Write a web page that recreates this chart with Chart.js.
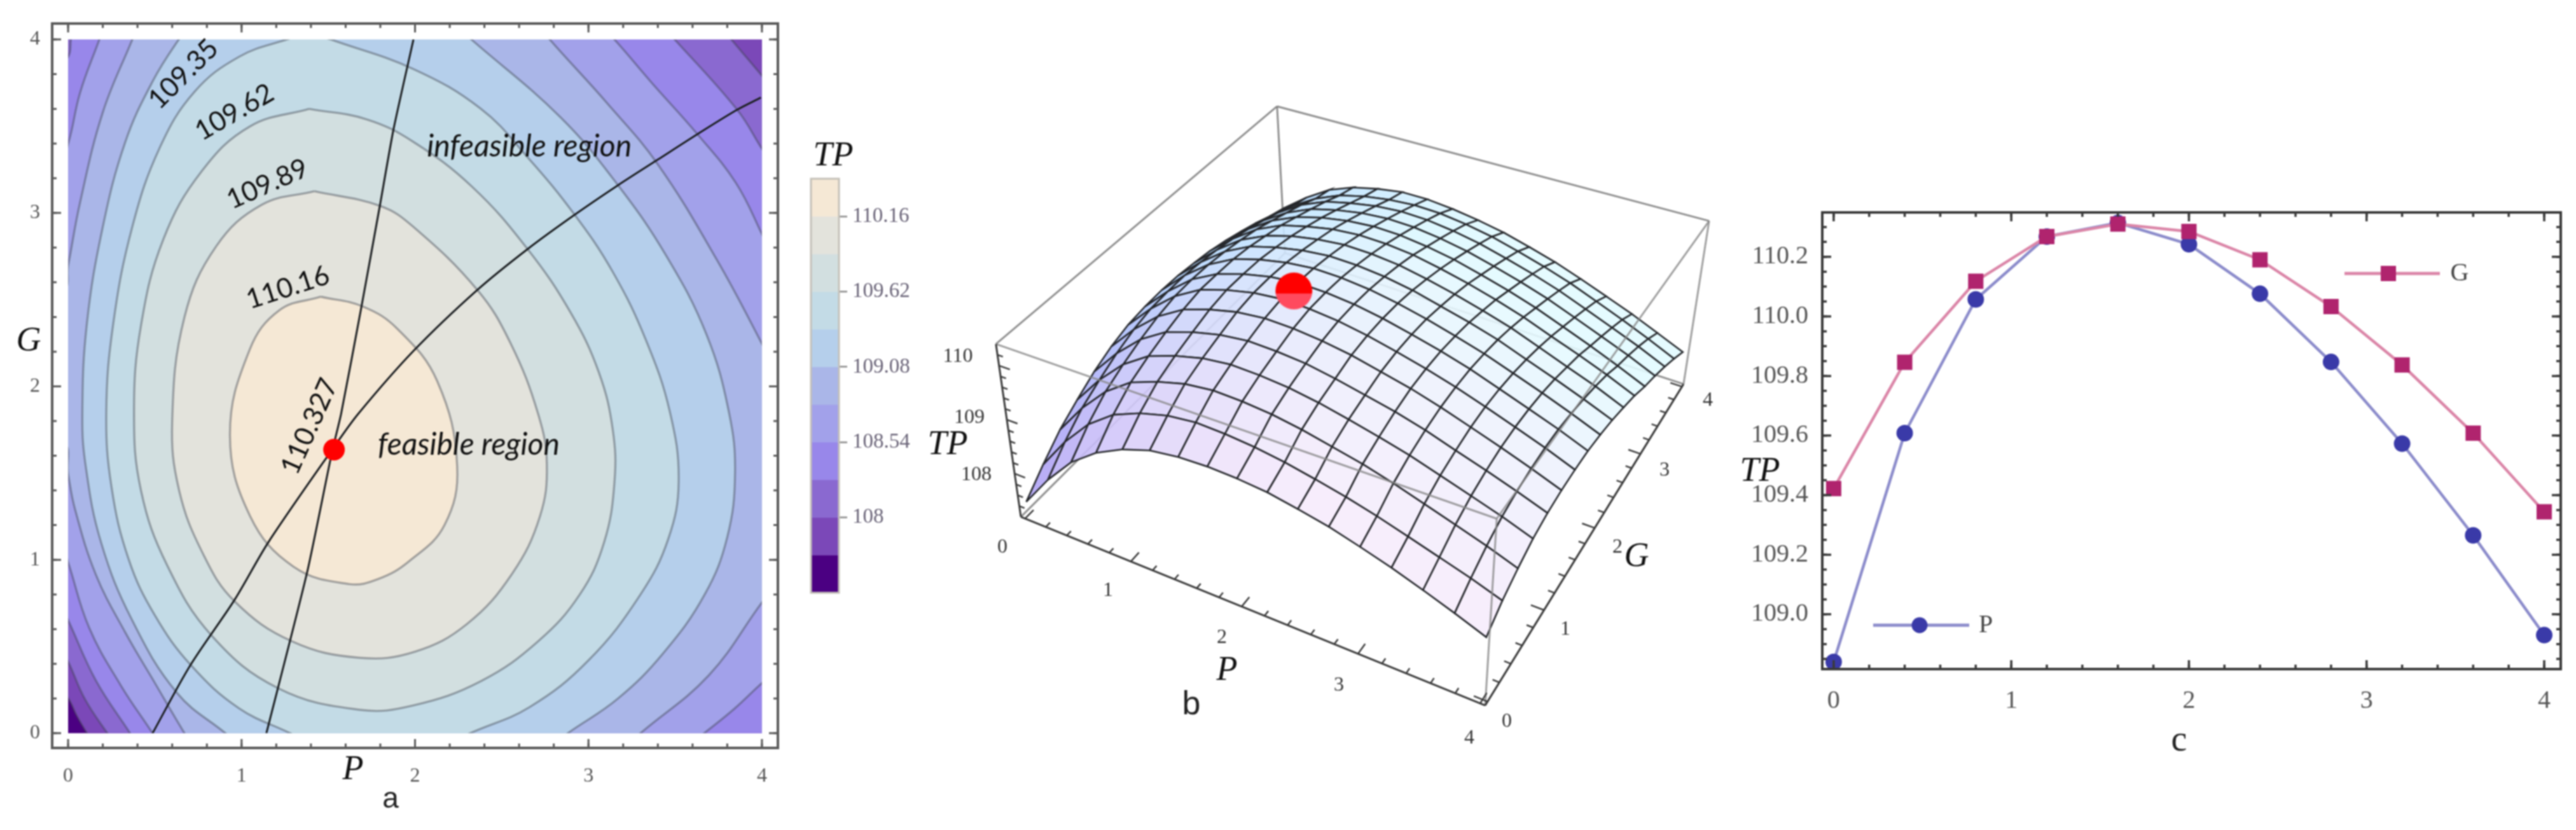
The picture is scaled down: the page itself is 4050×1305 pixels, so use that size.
<!DOCTYPE html>
<html><head><meta charset="utf-8">
<style>html,body{margin:0;padding:0;background:#fff;width:4050px;height:1305px;overflow:hidden}canvas{position:absolute;filter:blur(0.9px)}</style>
<script src="https://cdn.jsdelivr.net/npm/chart.js@4"></script>
</head><body>
<script>
/* ---------- data: panel a, contour lines as [P,G] ---------- */
const contour1=[[1.457,2.517],[1.7,2.46],[1.9,2.33],[2.128,2.03],[2.243,1.54],[2.17,1.2],[1.964,.99],[1.79,.89],[1.62,.86],[1.3,.96],[1.05,1.25],[.933,1.72],[1.047,2.212],[1.22,2.44]];
const contour2=[[1.42,3.125],[1.8,3.04],[1.99,2.92],[2.36,2.555],[2.55,2.25],[2.71,1.84],[2.76,1.55],[2.72,1.25],[2.56,.92],[2.3,.63],[2,.47],[1.68,.435],[1.29,.53],[.96,.76],[.78,1.03],[.64,1.4],[.6,1.8],[.671,2.4],[.854,2.808],[1.116,3.047]];
const contour3=[[1.39,3.6],[1.72,3.54],[1.99,3.41],[2.33,3.15],[2.65,2.79],[2.9,2.42],[3.06,2.08],[3.14,1.75],[3.15,1.45],[3.09,1.1],[2.95,.8],[2.71,.53],[2.38,.3],[1.99,.16],[1.68,.135],[1.21,.26],[.83,.56],[.57,.97],[.42,1.4],[.38,1.85],[.42,2.35],[.55,2.85],[.77,3.24],[1.05,3.5]];
const contour4=[[1.516,4],[1.99,3.83],[2.38,3.6],[2.65,3.32],[2.92,2.99],[3.14,2.66],[3.33,2.27],[3.47,1.85],[3.52,1.45],[3.46,1.12],[3.3,.8],[3,.42],[2.66,.15],[2.318,0],[2.2,-.06],[1.4,-.06],[1.28,0],[.985,.144],[.71,.39],[.5,.68],[.35,1],[.25,1.42],[.22,1.85],[.26,2.36],[.37,2.92],[.53,3.38],[.73,3.7],[.985,3.9],[1.26,4],[1.39,4.03]];
const contour5=[[2.325,4],[2.84,3.55],[3.17,3.16],[3.45,2.75],[3.68,2.3],[3.81,1.85],[3.845,1.5],[3.8,1.13],[3.67,.8],[3.43,.46],[3.17,.2],[2.881,0],[2.75,-.1],[2.4,-.5],[1.3,-.5],[1.03,-.1],[.907,0],[.63,.23],[.37,.65],[.19,1.1],[.1,1.55],[.082,1.85],[.108,2.36],[.2,2.92],[.33,3.41],[.488,3.76],[.638,4],[.72,4.1],[1,4.5],[2,4.5],[2.22,4.1]];
const contour6=[[.37,4],[.42,4.1],[.7,4.5],[2.5,4.5],[2.7,4.1],[2.777,4],[3.104,3.637],[3.4,3.28],[3.74,2.73],[4,2.246],[4.08,2.08],[4.5,1.9],[4.5,1.1],[4.1,.88],[4,.754],[3.693,.333],[3.3,0],[3.2,-.09],[3,-.5],[1,-.5],[.74,-.1],[.671,0],[.5,.29],[.33,.58],[.16,.914],[.04,1.29],[0,1.494],[-.03,1.68],[-.5,1.8],[-.5,2.4],[-.03,2.55],[0,2.696],[.069,3.061],[.2,3.58]];
const contour7=[[.18,4],[.24,4.1],[.5,4.5],[2.9,4.5],[3.05,4.1],[3.15,4],[3.366,3.749],[3.628,3.454],[3.85,3.173],[4,2.878],[4.07,2.72],[4.5,2.4],[4.5,.7],[4.1,.37],[4,.289],[3.84,.14],[3.667,0],[3.55,-.09],[3.2,-.5],[.8,-.5],[.55,-.1],[.487,0],[.304,.275],[.121,.609],[0,.986],[-.06,1.16],[-.5,1.4],[-.5,3],[-.08,3.2],[0,3.398],[.069,3.693]];
const contour8=[[.016,4],[.07,4.1],[.4,4.5],[3.2,4.5],[3.4,4.1],[3.497,4],[3.857,3.595],[4,3.37],[4.08,3.25],[4.5,3],[4.5,-.5],[.7,-.5],[.42,-.1],[.357,0],[.16,.304],[0,.652],[-.08,.82],[-.5,1.1],[-.5,3.5],[-.08,3.85],[0,3.9]];
const contour9=[[3.76,4.08],[3.824,4],[4,3.791],[4.1,3.67],[4.5,3.4],[4.5,-.5],[.5,-.5],[.3,-.1],[.226,0],[.095,.2],[0,.413],[-.1,.6],[-.5,.9],[-.5,4.5],[3.4,4.5]];
const contour10=[[.108,0],[.16,-.08],[.5,-.5],[4.5,-.5],[4.5,4.5],[-.5,4.5],[-.5,.7],[-.08,.3],[0,.202],[.05,.1]];
const contours=[contour10,contour9,contour8,contour7,contour6,contour5,contour4,contour3,contour2,contour1];
const boundaryCurve=[[.487,0],[.704,.391],[.959,.768],[1.155,1.102],[1.535,1.653],[1.673,1.842],[1.991,2.204],[2.358,2.555],[2.652,2.794],[2.921,2.99],[3.169,3.159],[3.399,3.307],[3.628,3.454],[3.857,3.595],[3.994,3.665]];
const boundaryLine=[[1.143,0],[1.378,.928],[1.522,1.624],[1.574,1.842],[1.692,2.464],[1.797,3.04],[1.876,3.482],[1.991,4]];
const optimum=[1.533,1.635];
const axisTicks=[0,1,2,3,4];
/* colour bar */
const bandEdges=[110.43,110.16,109.89,109.62,109.35,109.08,108.81,108.54,108.27,108,107.73,107.46];
const bandColours=['#F5E8D5','#E3E3DC','#D2DFE0','#C3DBE6','#B5CFEB','#AAB6E8','#A2A1EA','#9887EA','#8A69D0','#7B48B8','#4B0082'];
const barTicks=[110.16,109.62,109.08,108.54,108];
/* ---------- data: panel c ---------- */
const sampleX=[0,.4,.8,1.2,1.6,2,2.4,2.8,3.2,3.6,4];
const seriesP=[108.84,109.608,110.057,110.268,110.314,110.242,110.076,109.847,109.573,109.265,108.93];
const seriesG=[109.422,109.846,110.118,110.268,110.31,110.285,110.19,110.033,109.837,109.608,109.344];
const cYTicks=[109,109.2,109.4,109.6,109.8,110,110.2];
/* ---------- data: panel b, TP on the mesh (rows: G=0..4, columns: P=0..4, step .25) ---------- */
const meshStep=[0,.25,.5,.75,1,1.25,1.5,1.75,2,2.25,2.5,2.75,3,3.25,3.5,3.75,4];
const surfaceTP=[
[107.45,108.05,108.56,108.92,109.17,109.34,109.41,109.43,109.41,109.36,109.26,109.15,109.00,108.84,108.66,108.47,108.27],
[107.79,108.40,108.91,109.27,109.48,109.62,109.68,109.66,109.61,109.53,109.42,109.30,109.16,109.00,108.84,108.68,108.50],
[108.10,108.69,109.18,109.53,109.72,109.86,109.92,109.90,109.85,109.76,109.64,109.52,109.37,109.20,109.03,108.86,108.67],
[108.33,108.89,109.36,109.69,109.87,110.00,110.06,110.04,109.99,109.90,109.78,109.65,109.51,109.34,109.17,109.00,108.81],
[108.54,109.07,109.51,109.82,109.99,110.11,110.17,110.15,110.10,110.00,109.88,109.76,109.61,109.43,109.26,109.08,108.89],
[108.70,109.21,109.63,109.93,110.10,110.22,110.27,110.25,110.19,110.10,109.97,109.84,109.68,109.50,109.32,109.13,108.93],
[108.81,109.30,109.71,110.00,110.16,110.27,110.32,110.30,110.24,110.14,110.01,109.87,109.71,109.53,109.34,109.15,108.94],
[108.86,109.33,109.73,110.00,110.16,110.27,110.32,110.30,110.24,110.14,110.01,109.87,109.71,109.52,109.33,109.14,108.93],
[108.88,109.34,109.72,109.99,110.14,110.24,110.29,110.27,110.21,110.11,109.98,109.83,109.67,109.48,109.29,109.09,108.88],
[108.87,109.31,109.68,109.94,110.08,110.18,110.23,110.21,110.15,110.05,109.91,109.77,109.61,109.41,109.22,109.02,108.81],
[108.83,109.26,109.62,109.86,110.01,110.10,110.15,110.13,110.07,109.96,109.83,109.68,109.52,109.32,109.12,108.93,108.71],
[108.78,109.19,109.54,109.78,109.91,110.01,110.05,110.03,109.97,109.86,109.73,109.58,109.41,109.21,109.02,108.82,108.60],
[108.70,109.10,109.43,109.66,109.80,109.89,109.93,109.91,109.84,109.74,109.60,109.45,109.28,109.08,108.88,108.67,108.45],
[108.60,108.99,109.31,109.54,109.67,109.76,109.80,109.78,109.71,109.61,109.47,109.32,109.15,108.95,108.75,108.55,108.33],
[108.49,108.87,109.19,109.41,109.53,109.62,109.66,109.64,109.57,109.47,109.33,109.18,109.01,108.81,108.61,108.41,108.19],
[108.36,108.73,109.04,109.26,109.39,109.47,109.51,109.49,109.42,109.32,109.18,109.03,108.86,108.66,108.46,108.25,108.03],
[108.25,108.63,108.95,109.15,109.27,109.35,109.35,109.30,109.22,109.12,108.98,108.83,108.65,108.46,108.27,108.06,107.85]];
const optimum3D=[1.533,1.635,110.327];

/* ---------- helpers ---------- */
const SERIF='"Liberation Serif"';
const pts=a=>a.map(([x,y])=>({x,y}));
function addCanvas(l,t,w,h){const c=document.createElement('canvas');c.width=w;c.height=h;c.style.left=l+'px';c.style.top=t+'px';c.style.width=w+'px';c.style.height=h+'px';document.body.appendChild(c);return c;}
function notes(list,l,t){return{id:'notes',afterDraw(ch){const g=ch.ctx;for(const n of list){g.save();
  const X=n.data?ch.scales.x.getPixelForValue(n.x):n.x-l,Y=n.data?ch.scales.y.getPixelForValue(n.y):n.y-t;
  g.translate(X,Y);if(n.rot)g.rotate(n.rot*Math.PI/180);g.font=n.font;g.fillStyle=n.color||'#111';g.textAlign='center';g.textBaseline='middle';g.fillText(n.text,0,0);g.restore();}}};}
function frame(o){return{id:'frame',afterDraw(ch){const g=ch.ctx,a=ch.chartArea,X=ch.scales.x,Y=ch.scales.y;g.save();g.strokeStyle=o.color;g.lineWidth=o.width;g.strokeRect(a.left,a.top,a.right-a.left,a.bottom-a.top);
  const tick=(px,len,hor)=>{g.beginPath();if(hor){g.moveTo(px,a.bottom);g.lineTo(px,a.bottom-len);g.moveTo(px,a.top);g.lineTo(px,a.top+len);}else{g.moveTo(a.left,px);g.lineTo(a.left+len,px);g.moveTo(a.right,px);g.lineTo(a.right-len,px);}g.stroke();};
  g.lineWidth=o.tickWidth;
  for(const v of o.xMinor)tick(X.getPixelForValue(v),o.minorLen,true);
  for(const v of o.yMinor)tick(Y.getPixelForValue(v),o.minorLen,false);
  for(const v of o.xMajor)tick(X.getPixelForValue(v),o.majorLen,true);
  for(const v of o.yMajor)tick(Y.getPixelForValue(v),o.majorLen,false);
  g.restore();}};}
const range=(a,b,s)=>{const r=[];for(let i=0;Math.round((a+i*s)*1000)/1000<=b;i++)r.push(Math.round((a+i*s)*1000)/1000);return r;};
const fixedTicks=v=>s=>{s.ticks=v.map(value=>({value}));};
const base={responsive:false,animation:false,devicePixelRatio:1,events:[],plugins:{legend:{display:false},tooltip:{enabled:false}}};
Chart.defaults.elements.line.capBezierPoints=false;

/* ---------- panel a ---------- */
{
 const ds=[];let ord=100;
 ds.push({data:pts([[-.5,-.5],[4.5,-.5],[4.5,4.5],[-.5,4.5],[-.5,-.5]]),showLine:true,fill:'shape',backgroundColor:bandColours[10],borderWidth:0,pointRadius:0,tension:0,order:ord--});
 contours.forEach((c,i)=>{ds.push({data:pts(c.concat([c[0]])),showLine:true,fill:'shape',backgroundColor:bandColours[9-i],borderColor:'rgba(62,66,78,.42)',borderWidth:3.4,pointRadius:0,tension:.4,order:ord--});});
 ds.push({data:pts(boundaryCurve),showLine:true,borderColor:'#1c1f22',borderWidth:3,pointRadius:0,tension:.3,order:ord--});
 ds.push({data:pts(boundaryLine),showLine:true,borderColor:'#1c1f22',borderWidth:3,pointRadius:0,tension:.2,order:ord--});
 ds.push({data:pts([optimum]),backgroundColor:'#ff0000',borderWidth:0,pointRadius:17,order:ord--});
 const clip={id:'clipSquare',beforeDatasetsDraw(ch){const x=ch.scales.x,y=ch.scales.y,g=ch.ctx;g.save();g.beginPath();g.rect(x.getPixelForValue(0),y.getPixelForValue(4),x.getPixelForValue(4)-x.getPixelForValue(0),y.getPixelForValue(0)-y.getPixelForValue(4));g.clip();},afterDatasetsDraw(ch){ch.ctx.restore();}};
 const sans='"Lato"';
 new Chart(addCanvas(0,0,1260,1305),{type:'scatter',data:{datasets:ds},
  plugins:[clip,frame({color:'#5a5a5a',width:4,tickWidth:3,xMajor:axisTicks,yMajor:axisTicks,xMinor:range(0,4,.2),yMinor:range(0,4,.2),majorLen:14,minorLen:7}),
   notes([
    {data:1,x:.665,y:3.80,rot:-45,text:'109.35',font:`43px ${sans}`},
    {data:1,x:.959,y:3.58,rot:-30,text:'109.62',font:`43px ${sans}`},
    {data:1,x:1.149,y:3.166,rot:-24,text:'109.89',font:`43px ${sans}`},
    {data:1,x:1.267,y:2.569,rot:-18,text:'110.16',font:`43px ${sans}`},
    {data:1,x:1.392,y:1.769,rot:-66,text:'110.327',font:`43px ${sans}`},
    {data:1,x:2.659,y:3.384,text:'infeasible region',font:`italic 48px ${sans}`},
    {data:1,x:2.31,y:1.662,text:'feasible region',font:`italic 48px ${sans}`},
    {x:555,y:1211,text:'P',font:`italic 54px ${SERIF}`},
    {x:45,y:537,text:'G',font:`italic 54px ${SERIF}`},
    {x:614,y:1257,text:'a',font:'46px "Liberation Sans"',color:'#222'}
   ],0,0)],
  options:{...base,layout:{padding:{top:37,right:37}},
   scales:{
    x:{type:'linear',min:-.092,max:4.092,afterBuildTicks:fixedTicks(axisTicks),afterFit(s){s.height=129;},grid:{display:false},border:{display:false},ticks:{padding:17,maxRotation:0,color:'#555',font:{family:'Liberation Serif',size:32},callback:v=>String(v)}},
    y:{type:'linear',min:-.085,max:4.092,afterBuildTicks:fixedTicks(axisTicks),afterFit(s){s.width=82;},grid:{display:false},border:{display:false},ticks:{padding:11,color:'#555',font:{family:'Liberation Serif',size:32},callback:v=>String(v)}}
   }}});
}

/* ---------- colour bar ---------- */
{
 new Chart(addCanvas(1260,200,290,760),{type:'bar',
  data:{labels:['TP'],datasets:bandColours.map((c,i)=>({data:[[bandEdges[i+1],bandEdges[i]]],backgroundColor:c,grouped:false,barPercentage:1,categoryPercentage:1,borderWidth:0}))},
  plugins:[frame({color:'#c4c0b8',width:3,tickWidth:0,xMajor:[],yMajor:[],xMinor:[],yMinor:[],majorLen:0,minorLen:0}),
   notes([{x:1310,y:246,text:'TP',font:`italic 54px ${SERIF}`}],1260,200)],
  options:{...base,layout:{padding:{left:15,top:81,bottom:28}},
   scales:{
    x:{display:false,stacked:true},
    y:{position:'right',min:bandEdges[11],max:bandEdges[0],afterBuildTicks:fixedTicks(barTicks),afterFit(s){s.width=231;},
       grid:{drawOnChartArea:false,tickLength:13,tickColor:'#888',tickWidth:2.5},border:{display:false},
       ticks:{padding:8,color:'#6a6478',font:{family:'Liberation Serif',size:33},callback:v=>String(v)}}
   }}});
}

/* ---------- panel b ---------- */
{
 const L=1400,T=60,W=1340,H=1245;
 const quad=c=>{const [x0,y0]=c[0],[x1,y1]=c[1],[x2,y2]=c[2],[x3,y3]=c[3];
  const dx1=x1-x2,dx2=x3-x2,sx=x0-x1+x2-x3,dy1=y1-y2,dy2=y3-y2,sy=y0-y1+y2-y3,den=dx1*dy2-dx2*dy1;
  const g=(sx*dy2-dx2*sy)/den,h=(dx1*sy-sx*dy1)/den,a=x1-x0+g*x1,b=x3-x0+h*x3,d=y1-y0+g*y1,e=y3-y0+h*y3;
  return(u,v)=>{const w=g*u+h*v+1;return[(a*u+b*v+x0)/w,(d*u+e*v+y0)/w];};};
 const floorMap=quad([[1584,819],[2347,1130],[2673,600],[2018,384]]);
 const roofMap=quad([[1543,534],[2366,822],[2715,331],[2005,142]]);
 const Z0=107.2,Z1=110.4,PAD=.04;
 const uv=(u,v,f)=>{const a=floorMap(u,v),b=roofMap(u,v);return{x:a[0]+(b[0]-a[0])*f,y:a[1]+(b[1]-a[1])*f};};
 const project=(p,g,t)=>uv((p+PAD)/(4+2*PAD),(g+PAD)/(4+2*PAD),(t-Z0)/(Z1-Z0));
 const mix=(a,b,t)=>a.map((v,i)=>v+(b[i]-v)*t);
 const colour=(p,g)=>{const gv=g/4,base=mix([247,235,252],[226,251,255],Math.min(1,gv*1.3));
  const left=mix([170,155,244],[168,210,255],Math.min(1,gv*1.7));
  const t=Math.min(1,p/2.8),s=t*(2-t);const c=mix(left,base,s);return`rgba(${c.map(Math.round).join(',')},.9)`;};
 const ds=[];let ord=2000;
 const line=(a,color,w)=>ds.push({data:a,showLine:true,borderColor:color,borderWidth:w,pointRadius:0,tension:0,order:ord--});
 const grey='rgba(125,125,125,.85)';
 const c=(u,v,f)=>uv(u,v,f);
 line([c(0,1,1),c(1,1,1)],grey,3);line([c(0,1,1),c(0,0,1)],grey,3);line([c(0,1,1),c(0,1,0)],grey,3);
 line([c(0,1,0),c(0,0,0)],grey,3);line([c(0,1,0),c(1,1,0)],grey,3);
 const n=meshStep.length;
 for(let j=n-2;j>=0;j--)for(let i=0;i<n-1;i++){
  const P=meshStep,G=meshStep,R=surfaceTP;
  const a=project(P[i],G[j],R[j][i]),b=project(P[i+1],G[j],R[j][i+1]),d=project(P[i+1],G[j+1],R[j+1][i+1]),e=project(P[i],G[j+1],R[j+1][i]);
  ds.push({data:[a,b,d,e,a],showLine:true,fill:'shape',backgroundColor:colour(P[i]+.125,G[j]+.125),borderColor:'#26282c',borderWidth:2.6,pointRadius:0,tension:0,order:ord--});
 }
 const lineFront='rgba(135,135,135,.8)';
 line([c(0,0,1),c(1,0,1)],lineFront,3);line([c(1,0,1),c(1,1,1)],lineFront,3);line([c(1,0,1),c(1,0,0)],lineFront,3);line([c(1,1,1),c(1,1,0)],lineFront,3);
 const axis='#3a3a3a';
 line([c(0,0,0),c(1,0,0)],axis,3);line([c(1,0,0),c(1,1,0)],axis,3);line([c(0,0,0),c(0,0,1)],axis,3);
 const tp=[],tg=[],tz=[],gap={x:NaN,y:NaN};
 for(const v of range(0,4,.2)){const len=Number.isInteger(v)?.11:.055;
  tp.push(project(v,-PAD,Z0),project(v,-PAD+len,Z0),gap);
  tg.push(project(4+PAD,v,Z0),project(4+PAD-len,v,Z0),gap);}
 for(const v of range(107.4,110.2,.2)){const len=(Math.abs(v-Math.round(v))<.01)?.1:.05;
  tz.push(project(-PAD,-PAD,v),project(-PAD+len,-PAD,v),gap);}
 line(tp,axis,2.5);line(tg,axis,2.5);line(tz,axis,2.5);
 const dot=document.createElement('canvas');dot.width=dot.height=60;{const g=dot.getContext('2d');g.save();g.beginPath();g.arc(30,30,29,0,7);g.clip();g.fillStyle='#ff0000';g.fillRect(0,0,60,34);g.fillStyle='#ff4a5e';g.fillRect(0,34,60,26);g.restore();}
 ds.push({data:[project(...optimum3D)],pointStyle:dot,pointRadius:29,borderWidth:0,order:ord--});
 new Chart(addCanvas(L,T,W,H),{type:'scatter',data:{datasets:ds},
  plugins:[notes([
    ...[['110',1506,561],['109',1524,657],['108',1535,747]].map(([text,x,y])=>({text,x,y,font:`32px ${SERIF}`,color:'#333'})),
    ...[['0',1576,861],['1',1742,929],['2',1921,1003],['3',2105,1078],['4',2310,1161]].map(([text,x,y])=>({text,x,y,font:`32px ${SERIF}`,color:'#333'})),
    ...[['0',2369,1135],['1',2461,990],['2',2543,861],['3',2617,740],['4',2685,630]].map(([text,x,y])=>({text,x,y,font:`32px ${SERIF}`,color:'#333'})),
    {x:1490,y:700,text:'TP',font:`italic 54px ${SERIF}`},
    {x:1929,y:1055,text:'P',font:`italic 54px ${SERIF}`},
    {x:2573,y:876,text:'G',font:`italic 54px ${SERIF}`},
    {x:1873,y:1109,text:'b',font:'52px "Liberation Sans"',color:'#222'}
   ],L,T)],
  options:{...base,scales:{x:{display:false,min:L,max:L+W},y:{display:false,reverse:true,min:T,max:T+H}}}});
}

/* ---------- panel c ---------- */
{
 const L=2700,T=280;
 const legend={id:'seriesKey',afterDraw(ch){const g=ch.ctx;const draw=(x0,x1,mx,y,col,mk,kind)=>{g.save();g.strokeStyle=col;g.lineWidth=5;g.beginPath();g.moveTo(x0-L,y-T);g.lineTo(x1-L,y-T);g.stroke();g.fillStyle=mk;
   if(kind==='c'){g.beginPath();g.arc(mx-L,y-T,12.5,0,7);g.fill();}else g.fillRect(mx-L-12,y-T-12,24,24);g.restore();};
   draw(3686,3836,3755,430,'#DB86A8','#B0246E','s');draw(2945,3096,3018,983,'#8C8CCB','#3A3AA8','c');}};
 new Chart(addCanvas(L,T,1350,960),{type:'scatter',
  data:{datasets:[
   {data:sampleX.map((x,i)=>({x,y:seriesG[i]})),showLine:true,borderColor:'#DB86A8',borderWidth:4.5,backgroundColor:'#B0246E',pointStyle:'rect',pointRadius:17,pointBorderWidth:0,tension:0,order:1},
   {data:sampleX.map((x,i)=>({x,y:seriesP[i]})),showLine:true,borderColor:'#8C8CCB',borderWidth:4.5,backgroundColor:'#3A3AA8',pointStyle:'circle',pointRadius:13,pointBorderWidth:0,tension:0,order:2}]},
  plugins:[frame({color:'#3a3a3a',width:4,tickWidth:3.5,xMajor:axisTicks,yMajor:cYTicks,xMinor:range(0,4,.2),yMinor:range(108.85,110.3,.05),majorLen:14,minorLen:7}),legend,
   notes([
    {x:3867,y:430,text:'G',font:`40px ${SERIF}`,color:'#444'},
    {x:3122,y:983,text:'P',font:`40px ${SERIF}`,color:'#444'},
    {x:2767,y:742,text:'TP',font:`italic 54px ${SERIF}`},
    {x:3426,y:1165,text:'c',font:`56px ${SERIF}`,color:'#222'}
   ],L,T)],
  options:{...base,layout:{padding:{top:54,right:24}},
   scales:{
    x:{type:'linear',min:-.064,max:4.093,afterBuildTicks:fixedTicks(axisTicks),afterFit(s){s.height=188;},grid:{display:false},border:{display:false},ticks:{padding:18,maxRotation:0,color:'#555',font:{family:'Liberation Serif',size:40},callback:v=>String(v)}},
    y:{type:'linear',min:108.816,max:110.349,afterBuildTicks:fixedTicks(cYTicks),afterFit(s){s.width=165;},grid:{display:false},border:{display:false},ticks:{padding:14,color:'#555',font:{family:'Liberation Serif',size:40},callback:v=>v.toFixed(1)}}
   }}});
}
</script>
</body></html>
